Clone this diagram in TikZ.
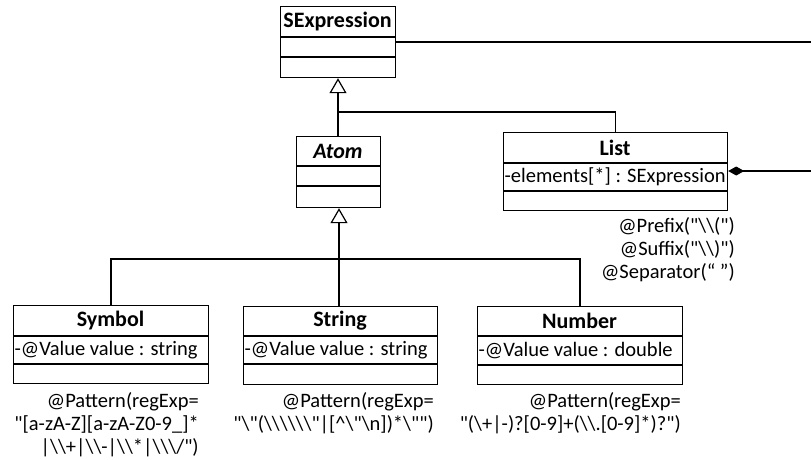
\documentclass[tikz,border=0pt]{standalone}
\usepackage{fontspec}
\setmainfont{Carlito}[Ligatures=TeXOff]
\usetikzlibrary{arrows.meta}
\newcommand{\bs}{\textbackslash}
\newcommand{\umlbox}[9]{%
  % #1 name, #2 x1, #3 y1, #4 x2, #5 y2, #6 header bottom, #7 attr bottom, #8 title, #9 attr
  \node[classbox, minimum width={#4-#2}, minimum height={#5-#3}, anchor=north west] (#1) at (#2,#3) {};
  \draw[boxline] (#2,#6) -- (#4,#6);
  \draw[boxline] (#2,#7) -- (#4,#7);
  \node[titletext] (#1-title) at ({(#2+#4)/2},{(#3+#6)/2}) {#8};
  \node[attrtext] (#1-attr) at (#2,{(#6+#7)/2}) {#9};
}
\begin{document}
\begin{tikzpicture}[x=1pt,y=-1pt,
  classbox/.style={draw=black, line width=1.2pt, inner sep=0pt, rectangle},
  boxline/.style={line width=1.2pt},
  titletext/.style={font=\fontsize{22}{24}\selectfont\bfseries, inner sep=0pt},
  attrtext/.style={font=\fontsize{20.5}{22.5}\selectfont, inner sep=0pt, anchor=west, xshift=1.5pt},
  note/.style={font=\fontsize{20.5}{22.8}\selectfont, align=right, inner sep=0pt, anchor=base east},
  conn/.style={line width=1.2pt},
  gen/.style={line width=1.2pt, -{Triangle[open, width=17pt, length=15pt, line width=1.2pt]}},
  comp/.style={line width=1.2pt, {Diamond[width=9pt, length=16pt]}-}
]
\useasboundingbox (0,0) rectangle (811,459);

\umlbox{sexp}{280}{6}{395}{77}{37}{57}{SExpression}{}
\umlbox{atom}{296}{136}{380}{207}{166}{186}{\itshape Atom}{}
\umlbox{list}{503}{132}{727}{210}{163}{191}{List}{-elements[*] : SExpression}
\umlbox{symbol}{13}{305}{208}{383}{336}{364}{Symbol}{-@Value value : string}
\umlbox{string}{243}{306}{437}{384}{336}{364}{String}{-@Value value : string}
\umlbox{number}{477}{306}{682}{384}{336}{365}{Number}{-@Value value : double}

% associations leaving the picture
\coordinate (sexpout) at (811,42);
\coordinate (listout) at (811,171);
\draw[conn] (sexp.east |- sexpout) -- (sexpout);
\draw[comp] (list.east |- listout) -- (listout);

% generalizations
\coordinate (jA) at (338,112);
\draw[gen] (atom.north -| jA) -- (sexp.south -| jA);
\draw[conn] (list.north) |- (jA);

\coordinate (jB) at (339,259);
\draw[gen] (string.north -| jB) -- (atom.south -| jB);
\draw[conn] (symbol.north -| 111,0) |- (jB);
\draw[conn] (jB) -| (number.north -| 580,0);

% annotations (anchored at the baseline of their last line)
\node[note] (listnote) at (735,278) {@Prefix("\bs\bs(")\\@Suffix("\bs\bs)")\\@Separator(“ ”)};
\node[note] (symnote) at (199,453) {@Pattern(regExp=\\"[a-zA-Z][a-zA-Z0-9\_]*\\|\bs\bs+|\bs\bs-|\bs\bs*|\bs\bs\bs/")};
\node[note] (strnote) at (434,430) {@Pattern(regExp=\\"\bs"(\bs\bs\bs\bs\bs\bs"|[\textasciicircum\bs"\bs n])*\bs"")};
\node[note] (numnote) at (681,430) {@Pattern(regExp=\\"(\bs+|-)?[0-9]+(\bs\bs.[0-9]*)?")};
\end{tikzpicture}
\end{document}
